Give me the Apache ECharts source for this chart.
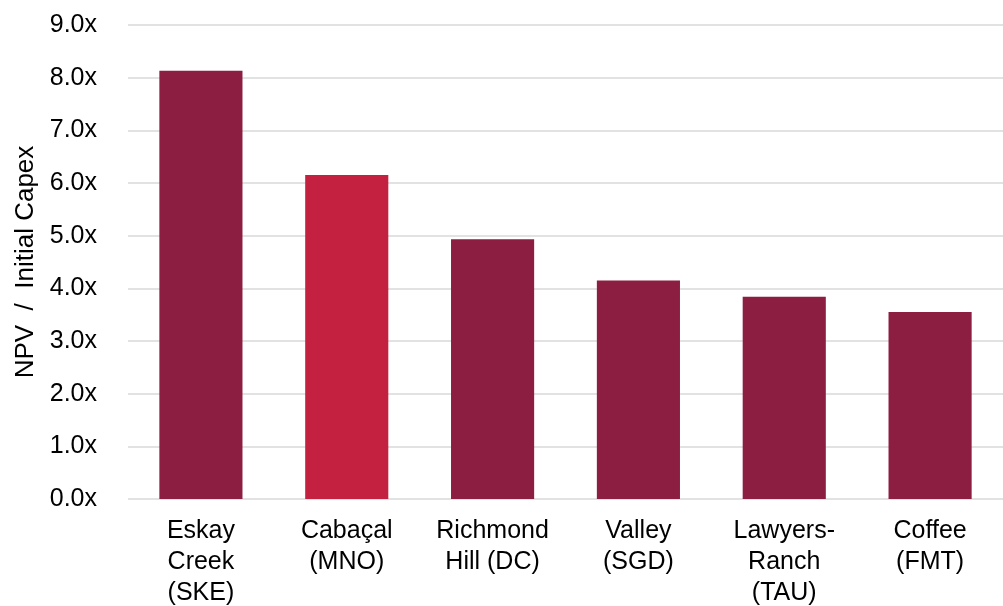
<!DOCTYPE html>
<html>
<head>
<meta charset="utf-8">
<script src="https://cdn.jsdelivr.net/npm/echarts@6/dist/echarts.min.js"></script>
<style>
  html, body { margin: 0; padding: 0; background: #fff; }
  #chart { width: 1003px; height: 606px; }
</style>
</head>
<body>
<div id="chart"></div>
<script>
var categories = ['Eskay\nCreek\n(SKE)', 'Cabaçal\n(MNO)', 'Richmond\nHill (DC)', 'Valley\n(SGD)', 'Lawyers-\nRanch\n(TAU)', 'Coffee\n(FMT)'];
var values = [8.13, 6.15, 4.93, 4.15, 3.84, 3.55];
var highlight = 1;

var chart = echarts.init(document.getElementById('chart'));
var option = {
    animation: false,
    grid: { left: 128, right: 0, top: 25, bottom: 107, containLabel: false, outerBoundsMode: 'none' },
    xAxis: {
        type: 'category',
        data: categories,
        axisLine: { show: false },
        axisTick: { show: false },
        axisLabel: {
            color: '#000', fontFamily: 'Liberation Sans, Arial', fontSize: 25,
            lineHeight: 31, margin: 17, interval: 0
        }
    },
    yAxis: {
        type: 'value',
        min: 0, max: 9, interval: 1,
        name: 'NPV  /  Initial Capex',
        nameLocation: 'middle',
        nameGap: 89,
        nameTextStyle: { color: '#000', fontFamily: 'Liberation Sans, Arial', fontSize: 26 },
        axisLabel: {
            color: '#000', fontFamily: 'Liberation Sans, Arial', fontSize: 25, margin: 31,
            formatter: function (v) { return v.toFixed(1) + 'x'; }
        },
        splitLine: { lineStyle: { color: '#d9d9d9', width: 1.5 } }
    },
    series: [{
        type: 'bar',
        barWidth: '57%',
        data: values.map(function (v, i) {
            return { value: v, itemStyle: { color: i === highlight ? '#c4203f' : '#8b1e41' } };
        })
    }]
};
chart.setOption(option);
</script>
</body>
</html>
